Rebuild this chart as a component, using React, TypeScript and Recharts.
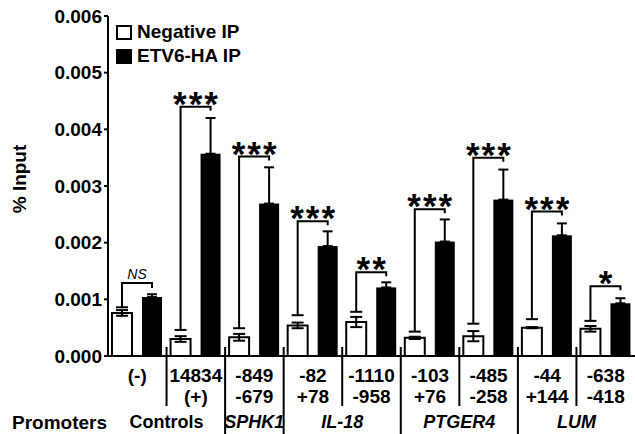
import { Bar, BarChart, ErrorBar, Legend, XAxis, YAxis } from "recharts";

// ChIP-qPCR: % input at promoter regions, negative IP vs ETV6-HA IP.

const FONT = "'Liberation Sans', Arial, sans-serif";
const CHART_W = 635;
const CHART_H = 434;
const Y_AXIS_W = 108;
const X_AXIS_H = 78;
const BAR_GAP = 10;

const seriesNames = ["Negative IP", "ETV6-HA IP"];

const sites = ["(-)", "14834", "-849", "-82", "-1110", "-103", "-485", "-44", "-638"];
const sitesEnd = ["", "(+)", "-679", "+78", "-958", "+76", "-258", "+144", "-418"];
const groupOf = ["Controls", "Controls", "SPHK1", "IL-18", "IL-18", "PTGER4", "PTGER4", "LUM", "LUM"];
const italicGroups = ["SPHK1", "IL-18", "PTGER4", "LUM"];

const negativeIP = [0.00076, 0.0003, 0.00033, 0.00054, 0.0006, 0.00032, 0.00035, 0.0005, 0.00048];
const negativeErr = [0.00005, 0.00005, 0.00006, 0.00005, 0.00009, 0.00002, 0.00009, 0.00001, 0.00005];
const etv6IP = [0.00104, 0.00357, 0.00269, 0.00194, 0.00121, 0.00202, 0.00276, 0.00213, 0.00093];
const etv6Err = [0.00005, 0.00063, 0.00064, 0.00026, 0.00009, 0.00039, 0.00053, 0.00021, 0.00009];

// significance brackets: height of the bar, bottom of the left leg, label
const bracketAt = [0.00129, 0.0044, 0.00352, 0.00238, 0.00148, 0.00259, 0.0035, 0.00255, 0.00123];
const bracketFrom = [0.00086, 0.00046, 0.00049, 0.00072, 0.00078, 0.00043, 0.00057, 0.00065, 0.00062];
const stars = ["NS", "***", "***", "***", "**", "***", "***", "***", "*"];

const yTicks = [0, 0.001, 0.002, 0.003, 0.004, 0.005, 0.006];

const data = sites.map((site, i) => ({
  site,
  neg: negativeIP[i],
  negErr: negativeErr[i],
  etv: etv6IP[i],
  etvErr: [0, etv6Err[i]],
}));

const band = (CHART_W - Y_AXIS_W) / sites.length;

function SiteTick(props: any) {
  const { x, y, index } = props;
  const i = index ?? sites.indexOf(props.payload?.value);
  const newGroup = i > 0 && groupOf[i] !== groupOf[i - 1];
  const first = i === 0 || newGroup;
  const size = groupOf.filter((g) => g === groupOf[i]).length;
  const txt = { fontFamily: FONT, fontWeight: "bold" as const, fill: "#000", textAnchor: "middle" as const };
  return (
    <g>
      {i > 0 && (
        <line
          x1={x - band / 2}
          x2={x - band / 2}
          y1={y - 9}
          y2={newGroup ? CHART_H : y + 50}
          stroke="#000"
          strokeWidth={2}
        />
      )}
      <text x={x} y={y + 26} fontSize={19} {...txt}>
        {sites[i]}
      </text>
      {sitesEnd[i] && (
        <text x={x} y={y + 47} fontSize={19} {...txt}>
          {sitesEnd[i]}
        </text>
      )}
      {first && (
        <text
          x={x + ((size - 1) * band) / 2}
          y={y + 72}
          fontSize={18}
          fontStyle={italicGroups.includes(groupOf[i]) ? "italic" : "normal"}
          {...txt}
        >
          {groupOf[i]}
        </text>
      )}
      {i === 0 && (
        <text x={12} y={y + 73} fontSize={19} fontFamily={FONT} fontWeight="bold" fill="#000">
          Promoters
        </text>
      )}
    </g>
  );
}

function EtvShape(props: any) {
  const { x, y, width, height } = props;
  const i = props.index ?? sites.indexOf(props.payload?.site);
  const top = Math.min(y, y + height);
  const base = Math.max(y, y + height);
  const unit = (base - top) / etv6IP[i];
  const toY = (v: number) => base - v * unit;
  const cx = x + width / 2;
  const wx = x - BAR_GAP - width / 2;
  const by = toY(bracketAt[i]);
  const ly = toY(bracketFrom[i]);
  const mid = (wx + cx) / 2;
  const ns = stars[i] === "NS";
  return (
    <g>
      <rect x={x} y={top} width={width} height={base - top} fill="#000" />
      <polyline
        points={`${wx},${ly} ${wx},${by} ${cx},${by} ${cx},${by + (ns ? 5 : 4)}`}
        fill="none"
        stroke="#000"
        strokeWidth={2}
      />
      <line x1={wx - 6} x2={wx + 6} y1={ly} y2={ly} stroke="#000" strokeWidth={2} />
      {ns ? (
        <text x={mid} y={by - 4} fontSize={14} fontStyle="italic" fontFamily={FONT} textAnchor="middle" fill="#000">
          NS
        </text>
      ) : (
        <text
          x={mid + 1}
          y={by + 9}
          fontSize={35}
          fontWeight="bold"
          fontFamily={FONT}
          textAnchor="middle"
          fill="#000"
          letterSpacing={2}
        >
          {stars[i]}
        </text>
      )}
    </g>
  );
}

function LegendBox() {
  return (
    <div style={{ fontFamily: FONT, fontWeight: "bold", fontSize: 19, color: "#000" }}>
      {seriesNames.map((name, k) => (
        <div key={name} style={{ display: "flex", alignItems: "center", height: 24 }}>
          <span
            style={{
              display: "inline-block",
              width: 16,
              height: 15,
              boxSizing: "border-box",
              border: "2px solid #000",
              background: k === 0 ? "#fff" : "#000",
              marginRight: 5,
            }}
          />
          <span>{name}</span>
        </div>
      ))}
    </div>
  );
}

function YLabel() {
  return (
    <text
      transform="translate(26,179) rotate(-90)"
      textAnchor="middle"
      fontFamily={FONT}
      fontWeight="bold"
      fontSize={19}
      fill="#000"
    >
      % Input
    </text>
  );
}

export default function App() {
  return (
    <div style={{ position: "absolute", left: 0, top: 0, background: "#fff" }}>
      <BarChart
        width={CHART_W}
        height={CHART_H}
        data={data}
        margin={{ top: 16, right: 0, left: 0, bottom: 0 }}
        barCategoryGap={4}
        barGap={BAR_GAP}
      >
        <YAxis
          width={Y_AXIS_W}
          domain={[0, 0.006]}
          ticks={yTicks}
          interval={0}
          tickFormatter={(v: number) => v.toFixed(3)}
          tick={{ fill: "#000", fontSize: 19, fontWeight: "bold", fontFamily: FONT }}
          tickSize={4}
          tickMargin={2}
          tickLine={{ stroke: "#000", strokeWidth: 2 }}
          axisLine={{ stroke: "#000", strokeWidth: 2 }}
          label={() => <YLabel />}
        />
        <XAxis
          dataKey="site"
          height={X_AXIS_H}
          interval={0}
          tick={<SiteTick />}
          tickLine={false}
          tickSize={0}
          tickMargin={0}
          axisLine={{ stroke: "#000", strokeWidth: 2 }}
        />
        <Legend
          content={<LegendBox />}
          layout="vertical"
          align="center"
          verticalAlign="middle"
          wrapperStyle={{ left: 116, top: 20, width: 160, height: 48 }}
        />
        <Bar dataKey="neg" name={seriesNames[0]} fill="#fff" stroke="#000" strokeWidth={2} isAnimationActive={false}>
          <ErrorBar dataKey="negErr" width={6} stroke="#000" strokeWidth={2} />
        </Bar>
        <Bar dataKey="etv" name={seriesNames[1]} fill="#000" shape={<EtvShape />} isAnimationActive={false}>
          <ErrorBar dataKey="etvErr" width={5} stroke="#000" strokeWidth={2} />
        </Bar>
      </BarChart>
    </div>
  );
}
